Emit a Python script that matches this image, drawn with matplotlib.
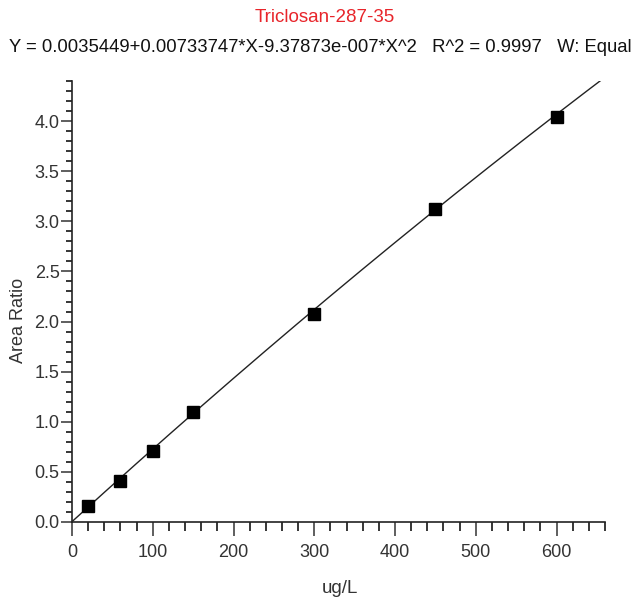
import matplotlib
matplotlib.use("Agg")
import matplotlib.pyplot as plt
import numpy as np
from matplotlib.ticker import MultipleLocator, FormatStrFormatter

# ---- data ----
conc = [20, 60, 100, 150, 300, 450, 600]
area_ratio = [0.16, 0.41, 0.71, 1.10, 2.08, 3.12, 4.04]
coef_c0 = 0.0035449
coef_c1 = 0.00733747
coef_c2 = -9.37873e-007
title_name = "Triclosan-287-35"
title_eq = "Y = 0.0035449+0.00733747*X-9.37873e-007*X^2   R^2 = 0.9997   W: Equal"
x_label = "ug/L"
y_label = "Area Ratio"

plt.rcParams['font.family'] = ['Liberation Sans', 'DejaVu Sans']

fig = plt.figure(figsize=(6.34, 6.02), dpi=100)
ax = fig.add_axes([72/634, 80/602, 533/634, 441/602])

xfit = np.linspace(0, 660, 200)
yfit = coef_c0 + coef_c1 * xfit + coef_c2 * xfit**2
ax.plot(xfit, yfit, color='#222222', lw=1.0, zorder=2)
ax.plot(conc, area_ratio, 's', color='black', ms=8, zorder=3)

ax.set_xlim(0, 660)
ax.set_ylim(0, 4.4)
for s in ['top', 'right']:
    ax.spines[s].set_visible(False)
for s in ['left', 'bottom']:
    ax.spines[s].set_color('#222222')
    ax.spines[s].set_linewidth(1.2)

ax.xaxis.set_major_locator(MultipleLocator(100))
ax.xaxis.set_minor_locator(MultipleLocator(20))
ax.yaxis.set_major_locator(MultipleLocator(0.5))
ax.yaxis.set_minor_locator(MultipleLocator(0.1))
ax.yaxis.set_major_formatter(FormatStrFormatter('%.1f'))
ax.tick_params(axis='x', which='major', length=10, width=1.1, direction='out', labelsize=13, pad=6, colors='#333333')
ax.tick_params(axis='x', which='minor', length=6.5, width=1.1, direction='out')
ax.tick_params(axis='y', which='major', length=8, width=1.1, direction='out', labelsize=13, pad=1, colors='#333333')
ax.tick_params(axis='y', which='minor', length=4.5, width=1.1, direction='out')

ax.set_xlabel(x_label, fontsize=13.5, color='#333333')
ax.xaxis.set_label_coords((340-72)/533, -(580-522)/441)
ax.set_ylabel(y_label, fontsize=13, color='#333333')
ax.yaxis.set_label_coords(-(72-27)/533, (522-320)/441)

fig.text(325/634, 1-18/602, title_name, color='#e8252b', fontsize=13.5, ha='center', va='center')
fig.text(320/634, 1-48/602, title_eq, color='#111111', fontsize=13.3, ha='center', va='center')

fig.savefig("out.png", dpi=100)
